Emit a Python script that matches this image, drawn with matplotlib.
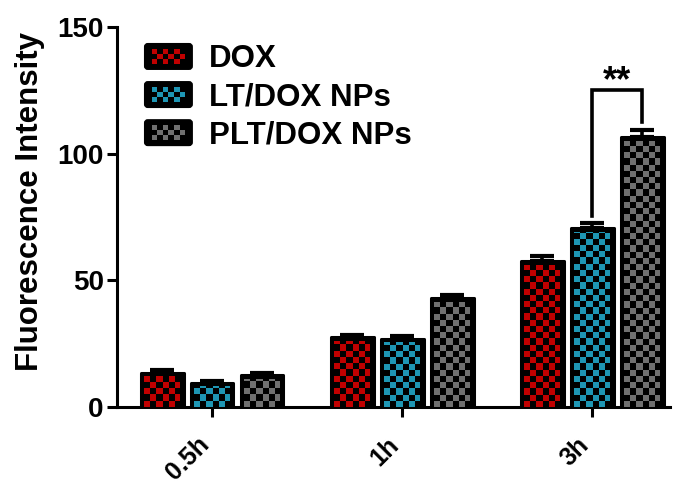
import numpy as np
import matplotlib
matplotlib.use("Agg")
import matplotlib.pyplot as plt
from matplotlib.patches import Rectangle, FancyBboxPatch
from matplotlib.legend_handler import HandlerBase
from matplotlib.transforms import ScaledTranslation

categories = ["0.5h", "1h", "3h"]
series_names = ["DOX", "LT/DOX NPs", "PLT/DOX NPs"]
dox_vals = [13.5, 27.5, 57.5]
lt_vals = [9.5, 27.0, 70.5]
pltnp_vals = [12.5, 43.0, 106.5]
dox_err = [1.0, 0.8, 2.0]
lt_err = [0.8, 1.0, 2.0]
pltnp_err = [1.0, 1.2, 3.0]
colors = ["#c00000", "#1e96b4", "#707070"]
yticks = [0, 50, 100, 150]
sig_label = "**"

FONT = "Liberation Sans"
plt.rcParams["font.family"] = [FONT, "DejaVu Sans"]
plt.rcParams["font.weight"] = "bold"

fig = plt.figure(figsize=(6.81, 4.86), dpi=100)
ax = fig.add_axes([117/681, 1-407/486, (670-117)/681, (407-27)/486])
ax.set_xlim(-0.5, 2.41)
ax.set_ylim(0, 150)

x = np.arange(len(categories))
width = 0.226
offset = 0.263
allvals = [dox_vals, lt_vals, pltnp_vals]
allerrs = [dox_err, lt_err, pltnp_err]

fig.canvas.draw()
inv = ax.transData.inverted()
def px_to_data(dx_px, dy_px):
    p0 = inv.transform((0, 0))
    p1 = inv.transform((dx_px, dy_px))
    return p1[0]-p0[0], p1[1]-p0[1]

cell_x, cell_y = px_to_data(6.2, 6.2)
pad_x, pad_y = px_to_data(3.5, 3.5)

for k, (vals, errs, col) in enumerate(zip(allvals, allerrs, colors)):
    xs = x + (k-1)*offset
    bars = ax.bar(xs, vals, width=width, color="black", edgecolor="black",
                  linewidth=2.2, joinstyle="round", zorder=2)
    ax.errorbar(xs, vals, yerr=[np.zeros(len(vals)), errs], fmt="none",
                ecolor="black", elinewidth=2.6, capsize=8.5, capthick=3, zorder=1)
    for b in bars:
        x0 = b.get_x() + pad_x
        x1 = b.get_x() + b.get_width() - pad_x
        y0 = 0
        y1 = b.get_height() - pad_y
        ncol = int(round((x1-x0)/cell_x))
        nrow = int(np.ceil((y1-y0)/cell_y)) + 1
        rgb = np.array(matplotlib.colors.to_rgb(col))
        img = np.zeros((nrow, ncol, 3))
        for i in range(nrow):
            for j in range(ncol):
                if (i + j) % 2 == 0:
                    img[i, j] = rgb
        im = ax.imshow(img, extent=[x0, x0+ncol*cell_x, y0, y0+nrow*cell_y],
                       origin="lower", interpolation="nearest", aspect="auto", zorder=3)
        clip = Rectangle((x0, y0), x1-x0, y1-y0, transform=ax.transData)
        im.set_clip_path(clip)

ax.set_xlim(-0.5, 2.41)
ax.set_ylim(0, 150)

# significance bracket
xl = x[2]
xr = x[2] + offset
ax.plot([xl, xl, xr, xr], [75.5, 125, 125, 112.5], color="black", lw=2.6,
        solid_joinstyle="miter", zorder=4, clip_on=False)
ax.text((xl+xr)/2, 124.8, sig_label, ha="center", va="baseline", fontsize=26,
        fontweight="bold")

for s in ["top", "right"]:
    ax.spines[s].set_visible(False)
for s in ["left", "bottom"]:
    ax.spines[s].set_linewidth(2.2)
ax.set_yticks(yticks)
ax.set_yticklabels([str(t) for t in yticks], fontsize=20, fontweight="bold")
ax.set_xticks(x)
ax.set_xticklabels(categories, fontsize=18, fontweight="bold", rotation=45,
                   ha="right", va="center", rotation_mode="anchor")
ax.tick_params(axis="both", length=7.5, width=2.2, direction="out")
ax.tick_params(axis="y", pad=2)
ax.tick_params(axis="x", pad=17)
for lbl in ax.get_xticklabels():
    lbl.set_transform(lbl.get_transform() + ScaledTranslation(-0.07, 0, fig.dpi_scale_trans))
ax.set_ylabel("Fluorescence Intensity", fontsize=22.5, fontweight="bold")
ax.yaxis.set_label_coords((45-117)/553, (407-201)/380)

class HandlerChecker(HandlerBase):
    def create_artists(self, legend, orig_handle, xdescent, ydescent, width,
                       height, fontsize, trans):
        col = orig_handle.get_facecolor()
        arts = []
        bg = FancyBboxPatch((-xdescent, -ydescent), width, height,
                            boxstyle="round,pad=0,rounding_size=2",
                            facecolor="black", edgecolor="black", lw=1.5,
                            transform=trans)
        arts.append(bg)
        ncol, nrow = 6, 3
        mx = width*0.14
        my = height*0.2
        cw = (width - 2*mx)/ncol
        ch = (height - 2*my)/nrow
        for i in range(nrow):
            for j in range(ncol):
                if (i + j) % 2 == 0:
                    r = Rectangle((-xdescent+mx+j*cw, -ydescent+my+i*ch), cw, ch,
                                  facecolor=col, edgecolor="none", transform=trans)
                    arts.append(r)
        return arts

handles = [Rectangle((0, 0), 1, 1, facecolor=c) for c in colors]
leg = ax.legend(handles, series_names, loc="upper left",
                bbox_to_anchor=((145-117)/553, (407-44)/380), frameon=False,
                handlelength=1.5, handleheight=0.85,
                handletextpad=0.55, labelspacing=0.25, borderpad=0,
                borderaxespad=0, handler_map={Rectangle: HandlerChecker()},
                prop={"weight": "bold", "size": 22.5})

fig.savefig("out.png", dpi=100)
